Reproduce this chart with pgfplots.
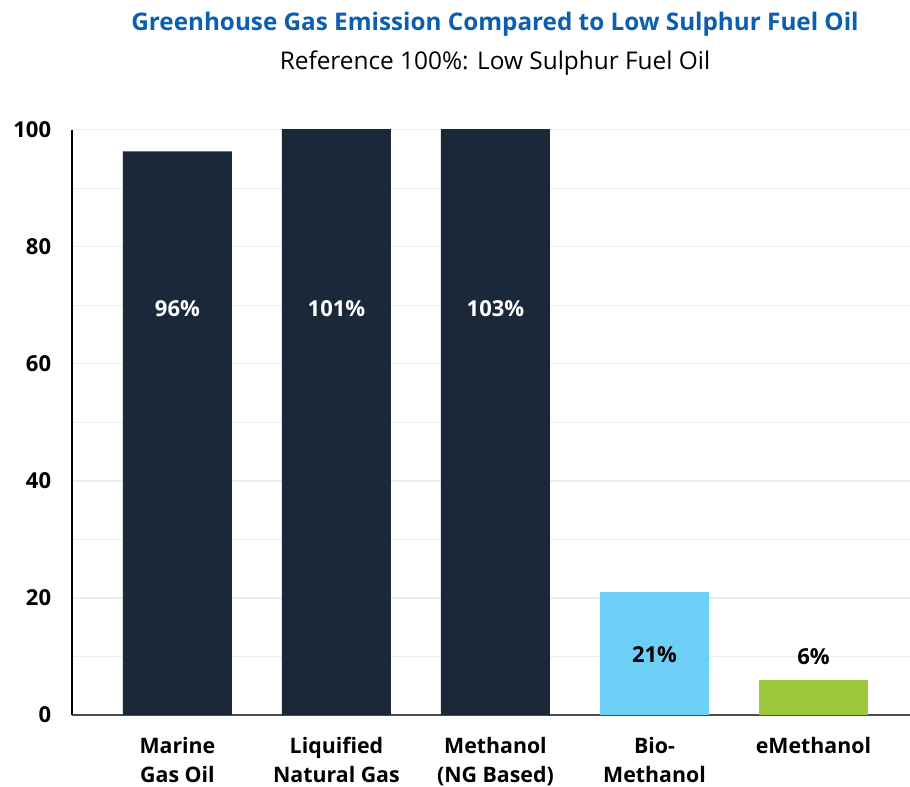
\documentclass[border=0pt]{standalone}
\usepackage{pgfplots}
\pgfplotsset{compat=1.18}
\usepackage{fontspec}
\setmainfont{Open Sans}
\definecolor{navy}{HTML}{1B283A}
\definecolor{skyblue}{HTML}{6DCFF6}
\definecolor{leafgreen}{HTML}{9DC73C}
\definecolor{titleblue}{HTML}{0B5FAE}
\definecolor{gridc}{HTML}{E9EEF4}
\begin{document}
\begin{tikzpicture}
\useasboundingbox (0,0) rectangle (682.5pt,590.25pt);
\node[font=\bfseries\fontsize{18.2}{20}\selectfont, text=titleblue] at (371.25pt,571.8pt) {Greenhouse Gas Emission Compared to Low Sulphur Fuel Oil};
\node[font=\fontsize{18.3}{20}\selectfont] at (371.25pt,543pt) {Reference 100\%: Low Sulphur Fuel Oil};
\begin{axis}[
  at={(54pt,54pt)}, anchor=south west,
  scale only axis, width=628.5pt, height=439pt,
  xmin=-0.663, xmax=4.607, ymin=0, ymax=100,
  axis x line*=bottom, axis y line*=left,
  x axis line style={-, draw=black!70, line width=1.4pt},
  y axis line style={-, draw=black, line width=1pt},
  ytick={0,20,...,100}, minor ytick={10,30,...,90},
  ymajorgrids, yminorgrids,
  major grid style={draw=gridc, line width=1pt},
  minor grid style={draw=gridc, line width=1pt},
  major tick length=0pt, minor tick length=0pt,
  xtick={0,1,2,3,4},
  xticklabels={{Marine\\Gas Oil},{Liquified\\Natural Gas},{Methanol\\(NG Based)},{Bio-\\Methanol},{eMethanol}},
  xticklabel style={align=center, inner sep=0pt, anchor=north, yshift=-16.5pt,
    font=\bfseries\fontsize{16}{22}\selectfont},
  yticklabel style={inner sep=0pt, anchor=east, xshift=-15.5pt,
    font=\bfseries\fontsize{16.5}{18}\selectfont},
  /pgf/number format/assume math mode=true,
]
% emission bars, percent of low sulphur fuel oil
\addplot[ybar, bar width=0.686, bar shift=0pt, fill=navy, draw=none]
  coordinates {(0,96.3) (1,101) (2,103)};
\addplot[ybar, bar width=0.686, bar shift=0pt, fill=skyblue, draw=none]
  coordinates {(3,21)};
\addplot[ybar, bar width=0.686, bar shift=0pt, fill=leafgreen, draw=none]
  coordinates {(4,6)};
% value labels
\addplot[only marks, mark=none, nodes near coords, point meta=explicit symbolic,
  nodes near coords align=center,
  every node near coord/.style={text=white, font=\bfseries\fontsize{16.5}{18}\selectfont}]
  coordinates {(0,69.5)[96\%] (1,69.5)[101\%] (2,69.5)[103\%]};
\addplot[only marks, mark=none, nodes near coords, point meta=explicit symbolic,
  nodes near coords align=center,
  every node near coord/.style={text=black, font=\bfseries\fontsize{16.5}{18}\selectfont}]
  coordinates {(3,10.3)[21\%] (4,10)[6\%]};
\end{axis}
\end{tikzpicture}
\end{document}
